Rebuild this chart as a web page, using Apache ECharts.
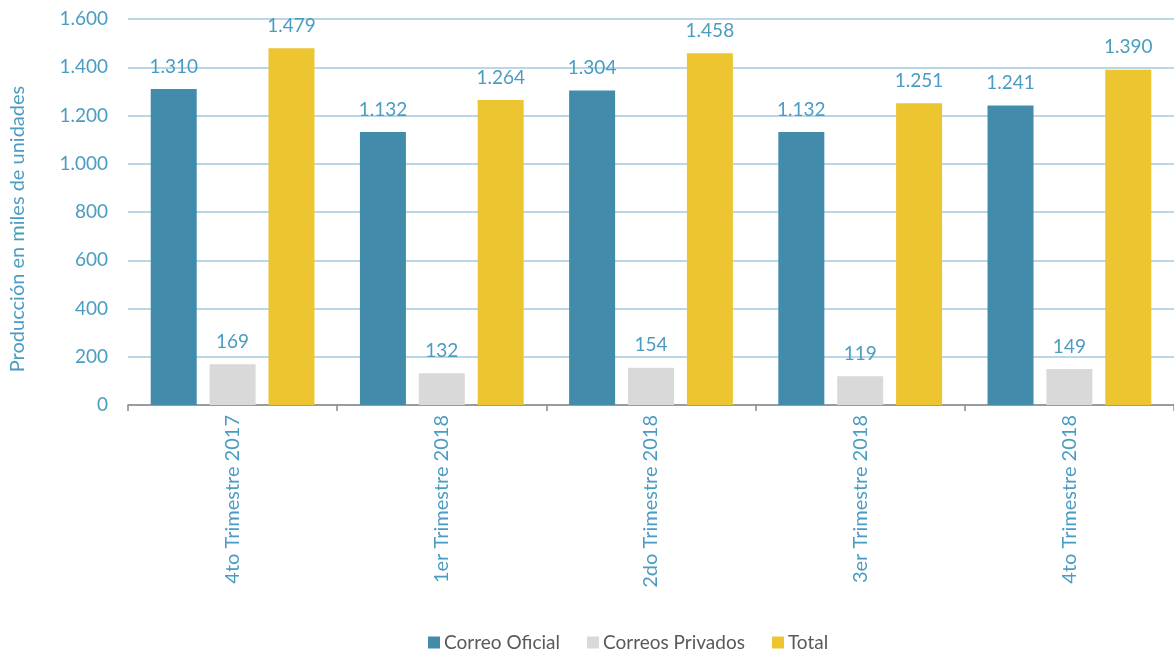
<!DOCTYPE html>
<html><head><meta charset="utf-8">
<script src="https://cdn.jsdelivr.net/npm/echarts@6/dist/echarts.min.js"></script>
<style>html,body{margin:0;padding:0;background:#fff}#c{width:1174px;height:651px}</style>
</head><body><div id="c"></div>
<script>
const categories = ["4to Trimestre 2017","1er Trimestre 2018","2do Trimestre 2018","3er Trimestre 2018","4to Trimestre 2018"];
const correoOficial = [1310, 1132, 1304, 1132, 1241];
const correosPrivados = [169, 132, 154, 119, 149];
const total = [1479, 1264, 1458, 1251, 1390];
const yTicks = [0, 200, 400, 600, 800, 1000, 1200, 1400, 1600];

const FONT = 'Lato';
const fmt = v => String(v).replace(/\B(?=(\d{3})+(?!\d))/g, '.');
const labelColor = '#4a9cc2';
const lbl = {show:true, position:'top', distance:13, color:labelColor, fontSize:19, fontFamily:FONT, formatter:p=>fmt(p.value)};

const chart = echarts.init(document.getElementById('c'));
chart.setOption({
  animation:false,
  textStyle:{fontFamily:FONT},
  grid:{left:126, right:0, top:19, bottom:246},
  legend:{top:633, left:428, padding:0, itemWidth:12, itemHeight:12, itemGap:27, icon:'rect',
    textStyle:{color:'#595959', fontSize:19, fontFamily:FONT, padding:[0,0,0,-1]}},
  xAxis:{type:'category', data:categories,
    axisLine:{lineStyle:{color:'#8a8a8a', width:1.5}},
    axisTick:{show:true, length:6, lineStyle:{color:'#8a8a8a', width:1.5}},
    axisLabel:{rotate:90, color:labelColor, fontSize:20, fontFamily:FONT, margin:10}},
  yAxis:{type:'value', min:yTicks[0], max:yTicks[yTicks.length-1], interval:200,
    name:'Producción en miles de unidades', nameLocation:'middle', nameGap:100,
    nameTextStyle:{color:labelColor, fontSize:20, fontFamily:FONT, padding:[0,34,0,0]},
    axisLine:{show:false}, axisTick:{show:false},
    axisLabel:{color:labelColor, fontSize:19, fontFamily:FONT, margin:20, formatter:v=>fmt(v)},
    splitLine:{lineStyle:{color:'#a2cade', width:1.5}}},
  series:[
    {name:'Correo Oficial', type:'bar', data:correoOficial, itemStyle:{color:'#428bab'}, barWidth:46, barGap:'28%', label:lbl},
    {name:'Correos Privados', type:'bar', data:correosPrivados, itemStyle:{color:'#d9d9d9'}, barWidth:46, barGap:'28%', label:lbl},
    {name:'Total', type:'bar', data:total, itemStyle:{color:'#ecc531'}, barWidth:46, barGap:'28%', label:lbl}
  ]
});
</script></body></html>
